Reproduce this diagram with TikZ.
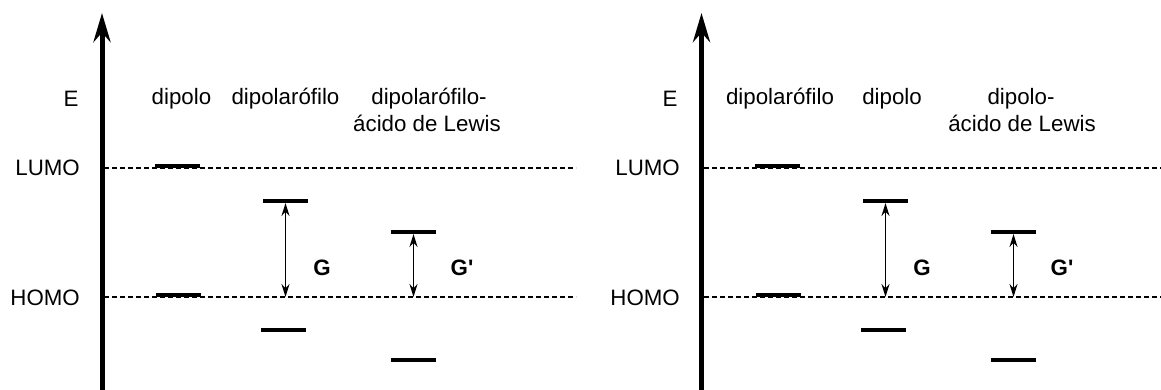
\documentclass[tikz,border=0pt]{standalone}
\usepackage{fontspec}
\setmainfont{Liberation Sans}
\usetikzlibrary{arrows.meta}
\begin{document}
\begin{tikzpicture}[x=1pt,y=-1pt,
  lbl/.style={font=\fontsize{22.3}{27}\selectfont, inner sep=0pt, align=center},
  glbl/.style={font=\fontsize{22.3}{27}\selectfont\bfseries, inner sep=0pt},
  bar/.style={fill=black, minimum width=45pt, minimum height=4pt, inner sep=0pt, outer sep=0pt},
  axis/.style={line width=5pt, -{Stealth[length=29pt,width=17pt]}},
  level/.style={dash pattern=on 5pt off 3pt, line width=1.7pt},
  gap/.style={line width=1.8pt, {Stealth[length=13pt,width=8pt]}-{Stealth[length=13pt,width=8pt]}}]
\useasboundingbox (0,0) rectangle (1161,390);
% ---------- left panel ----------
\coordinate (Lb) at (102,390);
\coordinate (Lt) at (102,13);
\draw[axis] (Lb) -- (Lt);
\node[lbl, anchor=base] (LE) at (71,107) {E};
\node[lbl, anchor=base east] (Llumo) at (80,176) {LUMO};
\node[lbl, anchor=base east] (Lhomo) at (80,305) {HOMO};
\coordinate (LlumoS) at (104,168);
\coordinate (LlumoE) at (576,168);
\coordinate (LhomoS) at (104,297);
\coordinate (LhomoE) at (576,297);
\draw[level] (LlumoS) -- (LlumoE);
\draw[level] (LhomoS) -- (LhomoE);
\node[lbl, anchor=base] (Lc1) at (181.5,105) {dipolo};
\node[lbl, anchor=base] (Lc2) at (285.5,105) {dipolarófilo};
\node[lbl, anchor=base] (Lc3a) at (429,105) {dipolarófilo-};
\node[lbl, anchor=base] (Lc3b) at (427,132) {ácido de Lewis};
\node[bar] (L1u) at (177.5,166) {};
\node[bar] (L1d) at (178,295) {};
\node[bar] (L2u) at (285.5,201) {};
\node[bar] (L2d) at (283.5,330) {};
\node[bar] (L3u) at (413.5,232) {};
\node[bar] (L3d) at (413.5,360) {};
\coordinate (L2h) at (285.5,297);
\coordinate (L3h) at (413.5,297);
\draw[gap] (L2u.south) -- (L2h);
\draw[gap] (L3u.south) -- (L3h);
\node[glbl] (LG) at (322,268) {G};
\node[glbl] (LGp) at (462,268) {G\textquotesingle};
% ---------- right panel ----------
\coordinate (Rb) at (701.5,390);
\coordinate (Rt) at (701.5,13);
\draw[axis] (Rb) -- (Rt);
\node[lbl, anchor=base] (RE) at (670,107) {E};
\node[lbl, anchor=base east] (Rlumo) at (680,176) {LUMO};
\node[lbl, anchor=base east] (Rhomo) at (680,305) {HOMO};
\coordinate (RlumoS) at (704,168);
\coordinate (RlumoE) at (1161,168);
\coordinate (RhomoS) at (704,297);
\coordinate (RhomoE) at (1161,297);
\draw[level] (RlumoS) -- (RlumoE);
\draw[level] (RhomoS) -- (RhomoE);
\node[lbl, anchor=base] (Rc1) at (780,105) {dipolarófilo};
\node[lbl, anchor=base] (Rc2) at (892,105) {dipolo};
\node[lbl, anchor=base] (Rc3a) at (1021,105) {dipolo-};
\node[lbl, anchor=base] (Rc3b) at (1022,132) {ácido de Lewis};
\node[bar] (R1u) at (777.5,166) {};
\node[bar] (R1d) at (778,295) {};
\node[bar] (R2u) at (885.5,201) {};
\node[bar] (R2d) at (883.5,330) {};
\node[bar] (R3u) at (1013.5,232) {};
\node[bar] (R3d) at (1013.5,360) {};
\coordinate (R2h) at (885.5,297);
\coordinate (R3h) at (1013.5,297);
\draw[gap] (R2u.south) -- (R2h);
\draw[gap] (R3u.south) -- (R3h);
\node[glbl] (RG) at (922,268) {G};
\node[glbl] (RGp) at (1062,268) {G\textquotesingle};
\end{tikzpicture}
\end{document}
